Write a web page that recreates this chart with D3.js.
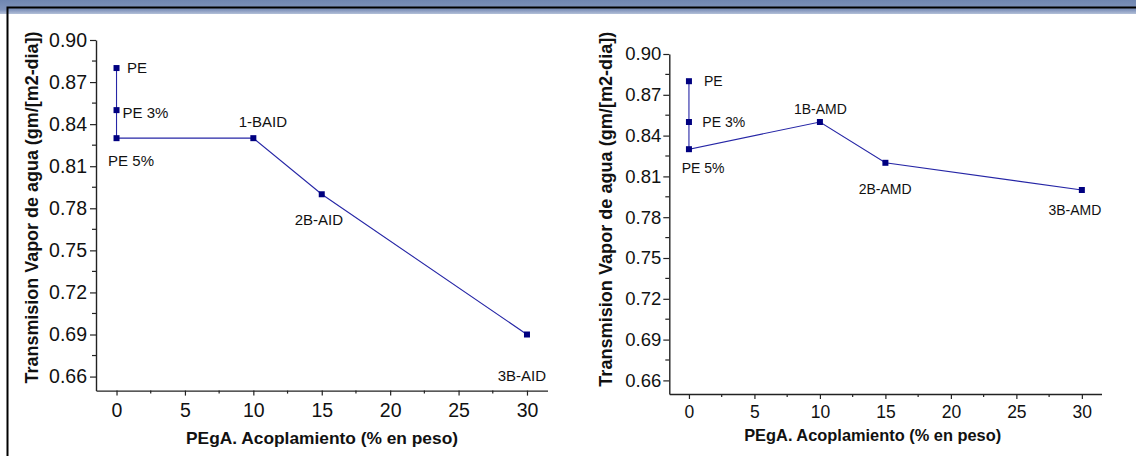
<!DOCTYPE html>
<html>
<head>
<meta charset="utf-8">
<script src="https://cdn.jsdelivr.net/npm/d3@7"></script>
<style>
  body { margin: 0; background: #fff; }
  svg { display: block; font-family: "Liberation Sans", Arial, sans-serif; }
</style>
</head>
<body>
<div id="chart"></div>
<script>
// tick values shared by both panels
const xTicks = [0, 5, 10, 15, 20, 25, 30];
const yTicks = [0.66, 0.69, 0.72, 0.75, 0.78, 0.81, 0.84, 0.87, 0.90];

// left panel: AID series
const aidLabels = ["PE", "PE 3%", "PE 5%", "1-BAID", "2B-AID", "3B-AID"];
const aidX = [0, 0, 0, 10, 15, 30];
const aidY = [0.88, 0.85, 0.83, 0.83, 0.79, 0.69];

// right panel: AMD series
const amdLabels = ["PE", "PE 3%", "PE 5%", "1B-AMD", "2B-AMD", "3B-AMD"];
const amdX = [0, 0, 0, 10, 15, 30];
const amdY = [0.88, 0.85, 0.83, 0.85, 0.82, 0.80];

const xTitle = "PEgA. Acoplamiento (% en peso)";
const yTitle = "Transmision Vapor de agua (gm/[m2-dia])";

const W = 1136, H = 456;

const svg = d3.select("#chart").append("svg")
  .attr("width", W)
  .attr("height", H);

// window-like header band + frame
const defs = svg.append("defs");
const grad = defs.append("linearGradient").attr("id", "band")
  .attr("x1", 0).attr("y1", 0).attr("x2", 0).attr("y2", 1);
grad.append("stop").attr("offset", "0%").attr("stop-color", "#6f86b1");
grad.append("stop").attr("offset", "45%").attr("stop-color", "#7a8fb8");
grad.append("stop").attr("offset", "70%").attr("stop-color", "#8093bb");
grad.append("stop").attr("offset", "100%").attr("stop-color", "#b3c0d8");

svg.append("rect").attr("x", 0).attr("y", 0).attr("width", W).attr("height", 14)
  .attr("fill", "url(#band)");
svg.append("path")
  .attr("d", "M7.5,456V7.5H" + W)
  .attr("fill", "none")
  .attr("stroke", "#000")
  .attr("stroke-width", 2);

function drawPanel(p) {
  const x = d3.scaleLinear().domain([-1.5, 31.5]).range(p.xRange);
  const y = d3.scaleLinear().domain([0.65, 0.90]).range(p.yRange);
  const g = svg.append("g");

  const x0 = p.xRange[0], yb = p.yRange[0];

  // minor ticks (halfway between the labelled ones)
  const xMinor = xTicks.map(d => d + 2.5).filter(d => d < 31.5);
  const yMinor = yTicks.map(d => d - 0.015).filter(d => d > 0.65);
  g.selectAll(".xm").data(xMinor).enter().append("line")
    .attr("x1", d => x(d)).attr("x2", d => x(d))
    .attr("y1", yb).attr("y2", yb + 3)
    .attr("stroke", "#222").attr("stroke-width", 1.2);
  g.selectAll(".ym").data(yMinor).enter().append("line")
    .attr("x1", x0 - 4).attr("x2", x0)
    .attr("y1", d => y(d)).attr("y2", d => y(d))
    .attr("stroke", "#222").attr("stroke-width", 1.2);

  // axes
  const xAxis = g.append("g").attr("transform", `translate(0,${yb})`)
    .call(d3.axisBottom(x).tickValues(xTicks).tickSize(5).tickPadding(p.xPad).tickSizeOuter(0));
  const yAxis = g.append("g").attr("transform", `translate(${x0},0)`)
    .call(d3.axisLeft(y).tickValues(yTicks).tickFormat(d3.format(".2f"))
      .tickSize(6).tickPadding(p.yPad).tickSizeOuter(0));

  [xAxis, yAxis].forEach(a => {
    a.select(".domain").attr("stroke", "#222").attr("stroke-width", 1.4);
    a.selectAll(".tick line").attr("stroke", "#222").attr("stroke-width", 1.2);
    a.selectAll("text").attr("fill", "#111").attr("font-family", "Liberation Sans, Arial, sans-serif");
  });
  xAxis.selectAll("text").attr("font-size", p.xTickFont);
  yAxis.selectAll("text").attr("font-size", p.yTickFont);

  // series
  const pts = p.xs.map((v, i) => ({ x: v, y: p.ys[i], label: p.labels[i], off: p.offsets[i] }));
  g.append("path").datum(pts)
    .attr("d", d3.line().x(d => x(d.x)).y(d => y(d.y)))
    .attr("fill", "none")
    .attr("stroke", "#2626a6")
    .attr("stroke-width", 1.1);

  g.selectAll(".pt").data(pts).enter().append("rect")
    .attr("x", d => x(d.x) - 3).attr("y", d => y(d.y) - 3)
    .attr("width", 6).attr("height", 6)
    .attr("fill", "#000080");

  g.selectAll(".lbl").data(pts).enter().append("text")
    .attr("x", d => x(d.x) + d.off[0])
    .attr("y", d => y(d.y) + d.off[1])
    .attr("font-size", p.labelFont)
    .attr("fill", "#111")
    .text(d => d.label);

  // axis titles
  g.append("text")
    .attr("x", p.xTitlePos[0]).attr("y", p.xTitlePos[1])
    .attr("text-anchor", "middle")
    .attr("font-weight", "bold")
    .attr("font-size", 16.5)
    .attr("fill", "#111")
    .attr("textLength", p.xTitleLen)
    .attr("lengthAdjust", "spacingAndGlyphs")
    .text(xTitle);

  g.append("text")
    .attr("transform", `translate(${p.yTitlePos[0]},${p.yTitlePos[1]}) rotate(-90)`)
    .attr("text-anchor", "middle")
    .attr("font-weight", "bold")
    .attr("font-size", 17.5)
    .attr("fill", "#111")
    .attr("textLength", p.yTitleLen)
    .attr("lengthAdjust", "spacingAndGlyphs")
    .text(yTitle);
}

drawPanel({
  xs: aidX, ys: aidY, labels: aidLabels,
  xRange: [96, 547.5], yRange: [390.6, 40],
  xPad: 8, yPad: 3, xTickFont: 19.5, yTickFont: 19.5, labelFont: 15,
  offsets: [[10.6, 5], [6, 7.7], [-8.4, 27.7], [-14.6, -11.6], [-27, 30.8], [-29.3, 46]],
  xTitlePos: [322, 444], xTitleLen: 272,
  yTitlePos: [38, 207.5], yTitleLen: 352
});

drawPanel({
  xs: amdX, ys: amdY, labels: amdLabels,
  xRange: [669.3, 1101.5], yRange: [394, 54],
  xPad: 7, yPad: 2, xTickFont: 17.5, yTickFont: 18.5, labelFont: 14,
  offsets: [[15, 5], [13.4, 4.6], [-7.3, 24], [-26, -7.7], [-26.7, 30.7], [-33.4, 25]],
  xTitlePos: [872.7, 441], xTitleLen: 257,
  yTitlePos: [612, 209.2], yTitleLen: 355
});
</script>
</body>
</html>
